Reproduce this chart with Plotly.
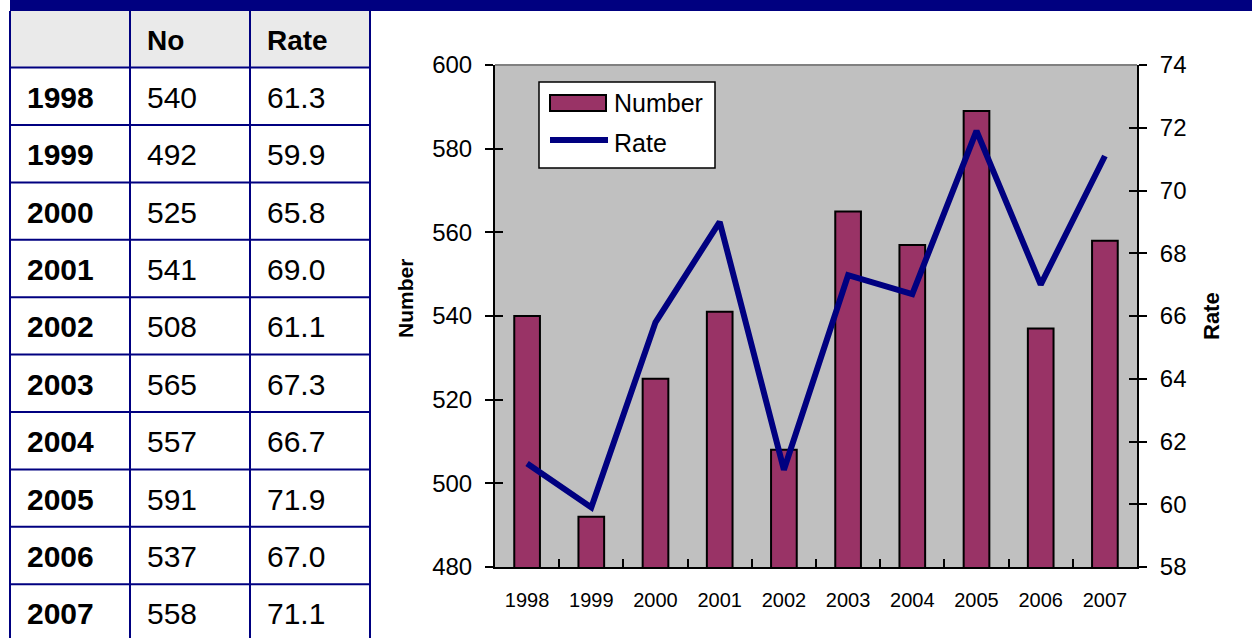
import plotly.graph_objects as go

# ---------------- data ----------------
years = ["1998", "1999", "2000", "2001", "2002", "2003", "2004", "2005", "2006", "2007"]
table_numbers = [540, 492, 525, 541, 508, 565, 557, 591, 537, 558]
table_rates = [61.3, 59.9, 65.8, 69.0, 61.1, 67.3, 66.7, 71.9, 67.0, 71.1]
# values as drawn in the chart (bar for 2005 is drawn at ~589)
chart_numbers = [540, 492, 525, 541, 508, 565, 557, 589, 537, 558]
chart_rates = [61.3, 59.9, 65.8, 69.0, 61.1, 67.3, 66.7, 71.9, 67.0, 71.1]
header_labels = ["", "No", "Rate"]
series_names = ["Number", "Rate"]

# ---------------- geometry helpers ----------------
W, H = 1252, 638
FONT = "Liberation Sans, Arial, Helvetica, sans-serif"
NAVY = "#000080"
BAR_COLOR = "#993366"


def px(x):
    return x / W


def py(y):
    return 1 - y / H


col_edges = [10, 130, 250, 370]
header_top, header_bottom, row_h = 11, 67.6, 57.4
plot_l, plot_r, plot_t, plot_b = 495, 1137, 65, 567

fig = go.Figure()

fig.add_trace(go.Bar(
    x=years, y=chart_numbers, name=series_names[0], width=0.4,
    marker=dict(color=BAR_COLOR, line=dict(color="black", width=2)),
    xaxis="x", yaxis="y", showlegend=False,
))
fig.add_trace(go.Scatter(
    x=years, y=chart_rates, name=series_names[1], mode="lines",
    line=dict(color=NAVY, width=6),
    xaxis="x", yaxis="y2", showlegend=False,
))
# traces with no visible marks, only to activate the tick-crossing overlay axes
fig.add_trace(go.Scatter(x=years, y=chart_numbers, yaxis="y3", mode="none",
                         showlegend=False, hoverinfo="skip"))
fig.add_trace(go.Scatter(x=years, y=chart_rates, yaxis="y4", mode="none",
                         showlegend=False, hoverinfo="skip"))

shapes = []
annotations = []

# top band
shapes.append(dict(type="rect", xref="paper", yref="paper",
                   x0=px(10), x1=1, y0=py(0), y1=py(header_top),
                   fillcolor=NAVY, line=dict(width=0), layer="above"))
# header fill
shapes.append(dict(type="rect", xref="paper", yref="paper",
                   x0=px(col_edges[0]), x1=px(col_edges[-1]),
                   y0=py(header_top), y1=py(header_bottom),
                   fillcolor="#EAEAEA", line=dict(width=0), layer="below"))
# vertical table lines
for xe in col_edges:
    shapes.append(dict(type="line", xref="paper", yref="paper",
                       x0=px(xe), x1=px(xe), y0=py(header_top), y1=0,
                       line=dict(color=NAVY, width=2)))
# horizontal table lines
for k in range(len(years)):
    yy = header_bottom + k * row_h
    shapes.append(dict(type="line", xref="paper", yref="paper",
                       x0=px(col_edges[0]), x1=px(col_edges[-1]), y0=py(yy), y1=py(yy),
                       line=dict(color=NAVY, width=2)))

pad = 15
# header text
for j, lab in enumerate(header_labels):
    if lab:
        annotations.append(dict(text=f"<b>{lab}</b>", xref="paper", yref="paper",
                                x=px(col_edges[j] + pad), y=py((header_top + header_bottom) / 2 + 1.5),
                                xanchor="left", yanchor="middle", showarrow=False,
                                font=dict(family=FONT, size=28, color="black")))
# body text
for i, yr in enumerate(years):
    cy = header_bottom + (i + 0.5) * row_h + 1
    cells = [f"<b>{yr}</b>", str(table_numbers[i]), f"{table_rates[i]:.1f}"]
    for j, txt in enumerate(cells):
        annotations.append(dict(text=txt, xref="paper", yref="paper",
                                x=px(col_edges[j] + pad), y=py(cy),
                                xanchor="left", yanchor="middle", showarrow=False,
                                font=dict(family=FONT, size=30, color="black")))

# top border of plot area (gray)
shapes.append(dict(type="line", xref="x domain", yref="y domain",
                   x0=0, x1=1, y0=1, y1=1, line=dict(color="#808080", width=2)))

# legend (drawn manually to match the wide swatches)
shapes.append(dict(type="rect", xref="paper", yref="paper",
                   x0=px(539), x1=px(715), y0=py(168), y1=py(82),
                   fillcolor="white", line=dict(color="black", width=1.5), layer="above"))
shapes.append(dict(type="rect", xref="paper", yref="paper",
                   x0=px(550), x1=px(606), y0=py(111), y1=py(95),
                   fillcolor=BAR_COLOR, line=dict(color="black", width=2), layer="above"))
shapes.append(dict(type="line", xref="paper", yref="paper",
                   x0=px(550), x1=px(608), y0=py(140), y1=py(140),
                   line=dict(color=NAVY, width=6), layer="above"))
for name, cy in zip(series_names, [103, 143]):
    annotations.append(dict(text=name, xref="paper", yref="paper",
                            x=px(612), y=py(cy), xanchor="left", yanchor="middle",
                            showarrow=False,
                            font=dict(family=FONT, size=25, color="black")))

# axis titles
annotations.append(dict(text="<b>Number</b>", xref="paper", yref="paper",
                        x=px(405), y=py(299), textangle=-90, showarrow=False,
                        xanchor="center", yanchor="middle",
                        font=dict(family=FONT, size=21, color="black")))
annotations.append(dict(text="<b>Rate</b>", xref="paper", yref="paper",
                        x=px(1212), y=py(316), textangle=-90, showarrow=False,
                        xanchor="center", yanchor="middle",
                        font=dict(family=FONT, size=22, color="black")))

xdom = [px(plot_l), px(plot_r)]
ydom = [py(plot_b), py(plot_t)]

yaxis_common = dict(showgrid=False, zeroline=False, ticklen=8, tickwidth=2,
                    tickcolor="black", fixedrange=True, automargin=False)

fig.update_layout(
    width=W, height=H, autosize=False,
    margin=dict(l=0, r=0, t=0, b=0, pad=0),
    paper_bgcolor="white",
    plot_bgcolor="#C0C0C0",
    font=dict(family=FONT, color="black"),
    shapes=shapes,
    annotations=annotations,
    showlegend=False,
    hovermode=False,
    xaxis=dict(domain=xdom, anchor="y", type="category", range=[-0.5, 9.5],
               showline=True, linecolor="black", linewidth=2,
               ticks="inside", tickson="boundaries", ticklen=8, tickwidth=2,
               tickcolor="black", ticklabelstandoff=14,
               tickfont=dict(family=FONT, size=20, color="black"),
               showgrid=False, zeroline=False, fixedrange=True, automargin=False),
    yaxis=dict(domain=ydom, anchor="x", range=[480, 600], dtick=20, tick0=480,
               side="left", showline=True, linecolor="black", linewidth=2,
               ticks="outside", ticklabelstandoff=8,
               tickfont=dict(family=FONT, size=24, color="black"), **yaxis_common),
    yaxis3=dict(domain=ydom, anchor="x", overlaying="y", range=[480, 600], dtick=20,
                tick0=480, side="left", showline=False, ticks="inside",
                showticklabels=False, **yaxis_common),
    yaxis2=dict(domain=ydom, anchor="x", overlaying="y", range=[58, 74], dtick=2,
                tick0=58, side="right", showline=True, linecolor="black", linewidth=2,
                ticks="outside", ticklabelstandoff=8,
                tickfont=dict(family=FONT, size=24, color="black"), **yaxis_common),
    yaxis4=dict(domain=ydom, anchor="x", overlaying="y", range=[58, 74], dtick=2,
                tick0=58, side="right", showline=False, ticks="inside",
                showticklabels=False, **yaxis_common),
)

fig.write_html("out.html")
